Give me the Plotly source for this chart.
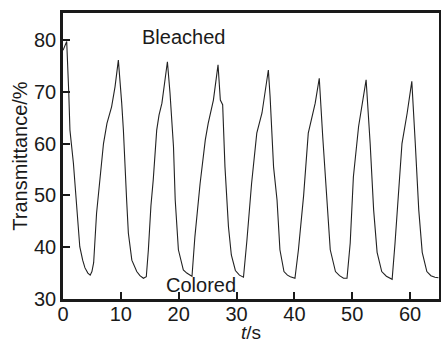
import plotly.graph_objects as go

# Transmittance (%) recorded over repeated bleach/colour switching cycles
time_s = [
    0.0, 0.3, 0.64, 1.0, 1.2, 1.8, 2.4, 2.9, 3.4, 3.8, 4.3, 4.7,
    5.0, 5.3, 5.8, 6.4, 7.0, 7.6, 8.4, 9.0, 9.57,
    10.15, 10.44, 11.0, 11.3, 11.9, 12.75, 13.3, 13.9, 14.4,
    14.76, 15.2, 15.6, 16.2, 16.6, 17.1, 17.6, 18.05,
    18.5, 19.1, 19.4, 19.95, 20.8, 21.4, 22.0, 22.3,
    22.8, 23.7, 24.6, 25.1, 26.0, 26.8,
    27.2, 27.6, 28.0, 28.6, 29.1, 29.8, 30.5, 31.2,
    31.8, 32.6, 33.5, 34.4, 35.5,
    35.8, 36.4, 37.0, 37.5, 38.2, 38.8, 39.3, 40.1,
    40.7, 41.6, 42.4, 43.6, 44.3,
    44.9, 45.6, 46.2, 47.1, 47.8, 48.5, 49.1,
    49.65, 50.2, 51.1, 51.7, 52.4,
    53.1, 53.7, 54.3, 55.1, 55.9, 56.5, 56.9,
    57.4, 58.0, 58.6, 59.5, 60.3,
    60.9, 61.5, 62.1, 62.9, 63.6, 64.3, 64.9,
]
transmittance = [
    78.0, 78.8, 79.7, 69.7, 62.6, 56.2, 46.5, 40.1, 37.5, 36.0, 35.0, 34.6,
    35.3, 37.0, 46.5, 53.0, 60.0, 63.9, 67.1, 71.0, 76.1,
    67.8, 62.6, 49.1, 42.7, 37.5, 35.3, 34.5, 34.0, 34.3,
    39.5, 48.0, 53.0, 62.6, 65.5, 67.8, 71.6, 75.8,
    69.7, 59.4, 49.1, 39.5, 35.6, 35.0, 34.6, 34.4,
    42.0, 52.3, 60.7, 63.9, 68.4, 75.2,
    68.4, 67.5, 55.5, 44.0, 38.5, 35.5, 34.6, 34.2,
    41.4, 52.3, 62.0, 65.9, 74.2,
    69.1, 55.5, 49.1, 39.5, 35.3, 34.6, 34.3, 34.0,
    39.5, 50.0, 62.0, 67.8, 72.6,
    61.3, 49.1, 39.5, 35.3, 34.5, 34.0, 34.0,
    40.8, 53.6, 63.3, 67.1, 72.3,
    60.0, 47.2, 39.0, 35.3, 34.4, 34.0, 33.8,
    40.8, 50.4, 60.0, 65.9, 72.0,
    60.0, 47.2, 39.0, 35.3, 34.5, 34.2, 34.1,
]

x_ticks = [0, 10, 20, 30, 40, 50, 60]
y_ticks = [30, 40, 50, 60, 70, 80]

FONT = "Liberation Sans, Arial, sans-serif"
INK = "#1a1a1a"

fig = go.Figure()
fig.add_trace(go.Scatter(
    x=time_s, y=transmittance, mode="lines",
    line=dict(color="#222222", width=1.1),
    showlegend=False, hoverinfo="skip",
))

fig.add_annotation(x=20.8, y=80.6, text="Bleached", showarrow=False,
                   font=dict(family=FONT, size=20, color=INK))
fig.add_annotation(x=23.8, y=32.7, text="Colored", showarrow=False,
                   font=dict(family=FONT, size=20, color=INK))

axis_common = dict(
    showgrid=False, zeroline=False, showline=True, mirror=True,
    linecolor=INK, linewidth=2.5, ticks="inside", ticklen=7,
    tickwidth=2, tickcolor=INK, automargin=False,
    tickfont=dict(family=FONT, size=20, color=INK),
)

fig.update_layout(
    width=441, height=343,
    margin=dict(l=63, r=2, t=13, b=44),
    paper_bgcolor="white", plot_bgcolor="white",
    xaxis=dict(range=[0, 65], tickvals=x_ticks, ticklabelstandoff=-5,
               title=dict(text="<i>t</i>/s", standoff=6,
                          font=dict(family=FONT, size=19, color=INK)),
               **axis_common),
    yaxis=dict(range=[30, 85.2], tickvals=y_ticks,
               title=dict(text="Transmittance/%", standoff=2,
                          font=dict(family=FONT, size=20, color=INK)),
               **axis_common),
)

fig.write_html("out.html")
